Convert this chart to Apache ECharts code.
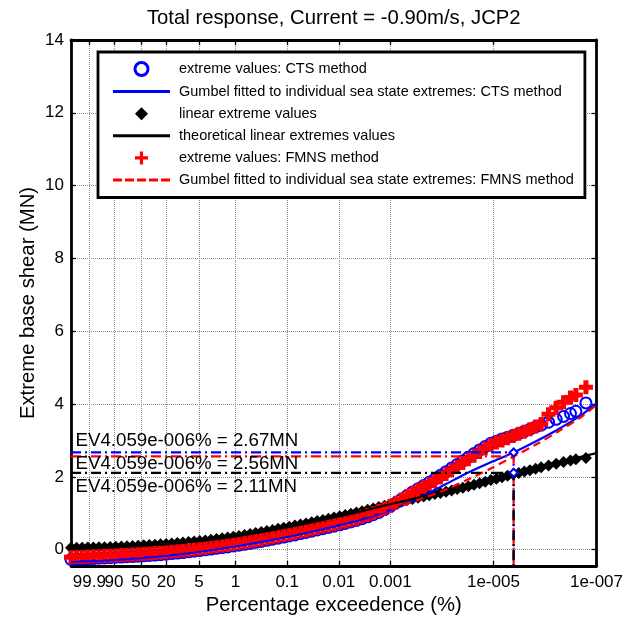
<!DOCTYPE html>
<html><head><meta charset="utf-8">
<script src="https://cdn.jsdelivr.net/npm/echarts/dist/echarts.min.js"></script>
<style>html,body{margin:0;padding:0;background:#fff}#c{width:626px;height:624px}</style>
</head><body><div id="c"></div>
<script>
// ---------------- data ----------------
const titleText = 'Total response, Current = -0.90m/s, JCP2';
const xName = 'Percentage exceedence (%)';
const yName = 'Extreme base shear (MN)';
const xTickLabels = ['99.9','90','50','20','5','1','0.1','0.01','0.001','1e-005','1e-007'];
const xTickPercents = [99.9, 90, 50, 20, 5, 1, 0.1, 0.01, 0.001, 1e-5, 1e-7];
const yTicks = [0, 2, 4, 6, 8, 10, 12, 14];

// plotting positions (Gumbel reduced variate) of the sorted extremes
const sampleU = [-2.75,-2.5,-2.25,-2,-1.75,-1.5,-1.25,-1,-0.75,-0.5,-0.25,0,0.25,0.5,0.75,1,1.25,1.5,1.75,2,
  2.25,2.5,2.75,3,3.25,3.5,3.75,4,4.25,4.5,4.75,5,5.25,5.5,5.75,6,6.25,6.5,6.75,7,
  7.25,7.5,7.75,8,8.25,8.5,8.75,9,9.25,9.5,9.75,10,10.25,10.5,10.75,11,11.25,11.5,11.75,12,
  12.25,12.5,12.75,13,13.25,13.5,13.75,14,14.25,14.5,14.75,15,15.25,15.5,15.75,16,16.25,16.5,16.75,17,
  17.25,17.5,17.75,18,18.25, 18.58,18.92,19.25,19.56,19.8,20.25];
// extreme values: CTS method (MN)
const ctsY = [-0.27,-0.265,-0.26,-0.25,-0.245,-0.235,-0.23,-0.22,-0.21,-0.205,-0.195,-0.19,-0.18,-0.17,-0.16,-0.15,-0.14,-0.125,-0.11,-0.095,
  -0.08,-0.06,-0.045,-0.025,-0.005,0.015,0.035,0.055,0.075,0.1,0.12,0.145,0.17,0.2,0.225,0.255,0.285,0.315,0.345,0.375,
  0.405,0.44,0.47,0.505,0.54,0.575,0.61,0.645,0.68,0.72,0.76,0.8,0.85,0.9,0.96,1.02,1.1,1.18,1.28,1.38,
  1.48,1.58,1.67,1.76,1.85,1.94,2.04,2.14,2.24,2.34,2.44,2.54,2.64,2.74,2.83,2.92,2.98,3.04,3.09,3.14,
  3.19,3.25,3.31,3.37,3.42, 3.5,3.58,3.66,3.74,3.8,4.03];
// linear extreme values (MN)
const linY = [0.05,0.05,0.052,0.055,0.058,0.062,0.066,0.07,0.077,0.084,0.092,0.1,0.108,0.117,0.126,0.135,0.146,0.157,0.168,0.18,
  0.193,0.207,0.22,0.235,0.253,0.272,0.29,0.31,0.332,0.355,0.377,0.4,0.427,0.455,0.482,0.51,0.54,0.57,0.6,0.63,
  0.66,0.69,0.72,0.75,0.783,0.815,0.848,0.88,0.915,0.95,0.985,1.02,1.057,1.095,1.132,1.17,1.207,1.245,1.282,1.32,
  1.355,1.39,1.425,1.46,1.492,1.525,1.557,1.59,1.627,1.665,1.702,1.74,1.782,1.825,1.867,1.91,1.95,1.99,2.03,2.07,
  2.107,2.145,2.182,2.22,2.26, 2.31,2.36,2.41,2.45,2.48,2.52];
// extreme values: FMNS method (MN)
const fmnsY = [-0.21,-0.205,-0.2,-0.19,-0.185,-0.18,-0.17,-0.165,-0.16,-0.15,-0.14,-0.135,-0.125,-0.115,-0.105,-0.095,-0.08,-0.07,-0.055,-0.04,
  -0.025,-0.01,0.01,0.03,0.05,0.07,0.09,0.11,0.13,0.155,0.175,0.2,0.225,0.255,0.28,0.31,0.34,0.37,0.4,0.43,
  0.46,0.495,0.525,0.56,0.595,0.63,0.665,0.7,0.735,0.775,0.81,0.85,0.9,0.95,1.0,1.06,1.13,1.2,1.29,1.38,
  1.47,1.56,1.64,1.72,1.8,1.88,1.98,2.08,2.18,2.28,2.38,2.48,2.58,2.68,2.78,2.88,2.94,3.0,3.06,3.12,
  3.18,3.24,3.31,3.38,3.45, 3.72,3.9,4.05,4.18,4.25,4.46];

// fitted / theoretical curves
const theoU = [-2.75,-1,0,2,4,6,8,10,11.5,13,14.5,16,17.02,18.5,20.72];
const theoY = [0.04,0.07,0.1,0.18,0.31,0.51,0.75,1.02,1.245,1.46,1.665,1.91,2.11,2.33,2.65];
const fitU = [-2.75,-1,0,2,4,6,8,10,11,12,13,14,15,16,17.02,18,19,20,20.72];
const ctsFitY = [-0.33,-0.29,-0.25,-0.14,0.03,0.24,0.49,0.79,0.98,1.2,1.48,1.8,2.12,2.4,2.67,2.97,3.3,3.68,4.02];
const fmnsFitY = [-0.28,-0.24,-0.2,-0.08,0.09,0.3,0.55,0.84,1.0,1.2,1.42,1.65,1.93,2.23,2.56,2.88,3.24,3.63,3.97];

// return level at the target exceedance
const returnPct = 4.059e-6;
const returnPctText = '4.059e-006';
const returnLevels = [2.67, 2.56, 2.11]; // CTS, FMNS, linear

// ---------------- layout ----------------
const FONT = '"Liberation Sans", Arial, Helvetica, sans-serif';
const xMin = -2.75, yMin = -0.45, yMax = 14;
const gumbel = p => -Math.log(-Math.log1p(-p / 100));
const xTickVals = xTickPercents.map(gumbel);
// label order chosen so the (overlapping) first two labels are not treated as an end pair
const labelOrder = [1, 2, 0, 3, 4, 5, 6, 7, 8, 9, 10];
const xLabelVals = labelOrder.map(i => xTickVals[i]);
const xMax = gumbel(1e-7);
const returnU = gumbel(returnPct);
const labelFor = v => { for (let i = 0; i < xTickVals.length; i++) if (Math.abs(xTickVals[i] - v) < 1e-6) return xTickLabels[i]; return ''; };
const zip = (a, b) => a.map((v, i) => [v, b[i]]);
const PLUS = 'path://M3.2,0H6.8V3.2H10V6.8H6.8V10H3.2V6.8H0V3.2H3.2Z';
const PLUS_ICON = 'path://M3.8,0H6.2V3.8H10V6.2H6.2V10H3.8V6.2H0V3.8H3.8Z';
const DIAMOND = 'path://M5,0L10,5L5,10L0,5Z';
const LINE_ICON = 'path://M0,0H57V3H0Z';
const DASH_ICON = 'path://M0,0H9V3H0Z M12,0H21V3H12Z M24,0H33V3H24Z M36,0H45V3H36Z M48,0H57V3H48Z';
const annotY = [2.99, 2.36, 1.72];
const retColors = ['#0000ff', '#ff0000', '#000000'];
const DASHDOT = [10, 4, 2, 4];

const N = ['extreme values: CTS method',
  'Gumbel fitted to individual sea state extremes: CTS method',
  'linear extreme values',
  'theoretical linear extremes values',
  'extreme values: FMNS method',
  'Gumbel fitted to individual sea state extremes: FMNS method'];

const frame = {show: true, onZero: false, lineStyle: {color: '#000', width: 2.8}};
const tickIn = vals => ({show: true, inside: true, length: 5, customValues: vals, lineStyle: {color: '#000', width: 1.3}});
const grid = {show: true, lineStyle: {color: '#8c8c8c', width: 1, type: [1, 1]}};
const noEmph = {disabled: true};

const series = [
  {name: N[0], type: 'scatter', data: zip(sampleU, ctsY), symbol: 'circle', symbolSize: 11, emphasis: noEmph,
   itemStyle: {color: 'rgba(255,255,255,0)', borderColor: '#0000ff', borderWidth: 2, opacity: 1}},
  {name: N[1], type: 'line', data: zip(fitU, ctsFitY), symbol: 'none', smooth: 0.3, emphasis: noEmph,
   lineStyle: {color: '#0000ff', width: 2.2}, itemStyle: {color: '#0000ff'}},
  {name: N[2], type: 'scatter', data: zip(sampleU, linY), symbol: DIAMOND, symbolSize: 12, emphasis: noEmph,
   itemStyle: {color: '#000', opacity: 1}},
  {name: N[3], type: 'line', data: zip(theoU, theoY), symbol: 'none', smooth: 0.3, emphasis: noEmph,
   lineStyle: {color: '#000', width: 2.2}, itemStyle: {color: '#000'}},
  {name: N[4], type: 'scatter', data: zip(sampleU, fmnsY), symbol: PLUS, symbolSize: 14, emphasis: noEmph,
   itemStyle: {color: '#ff0000', opacity: 1}},
  {name: N[5], type: 'line', data: zip(fitU, fmnsFitY), symbol: 'none', smooth: 0.3, emphasis: noEmph,
   lineStyle: {color: '#ff0000', width: 2.2, type: [8, 5]}, itemStyle: {color: '#ff0000'}}
];
returnLevels.forEach((lv, k) => {
  series.push({type: 'line', silent: true, symbol: 'none', data: [[xMin, lv], [returnU, lv], [returnU, yMin]],
    lineStyle: {color: retColors[k], width: 2.2, type: DASHDOT}, z: 3});
});
series.push({type: 'scatter', silent: true, symbol: 'emptyDiamond', symbolSize: 8, z: 4,
  itemStyle: {color: '#0000ff', borderWidth: 1.5, opacity: 1},
  data: [[returnU, returnLevels[0]], [returnU, returnLevels[2]]]});
series.push({type: 'scatter', silent: true, symbolSize: 1, z: 5, itemStyle: {color: 'rgba(0,0,0,0)', opacity: 1},
  label: {show: true, position: 'right', distance: 0, formatter: '{b}', color: '#000', fontSize: 18.7, fontFamily: FONT},
  data: returnLevels.map((lv, k) => ({name: 'EV' + returnPctText + '% = ' + lv.toFixed(2) + 'MN', value: [-2.57, annotY[k]]}))});

const option = {
  animation: false,
  backgroundColor: '#fff',
  textStyle: {fontFamily: FONT},
  grid: {left: 71, right: 29, top: 40, bottom: 58},
  legend: {
    orient: 'vertical', left: 98, top: 52, itemWidth: 57, itemHeight: 13, itemGap: 7.1,
    padding: [9, 11, 10, 15], borderColor: '#000', borderWidth: 2.8, backgroundColor: '#fff',
    textStyle: {fontSize: 14.5, color: '#000', fontFamily: FONT, padding: [0, 0, 0, 4]},
    data: [
      {name: N[0], icon: 'circle', itemStyle: {color: '#fff', borderColor: '#0000ff', borderWidth: 3}},
      {name: N[1], icon: LINE_ICON, itemStyle: {color: '#0000ff', borderWidth: 0}},
      {name: N[2], icon: DIAMOND, itemStyle: {color: '#000', borderWidth: 0}},
      {name: N[3], icon: LINE_ICON, itemStyle: {color: '#000', borderWidth: 0}},
      {name: N[4], icon: PLUS_ICON, itemStyle: {color: '#ff0000', borderWidth: 0}},
      {name: N[5], icon: DASH_ICON, itemStyle: {color: '#ff0000', borderWidth: 0}}
    ]
  },
  xAxis: [
    {type: 'value', min: xMin, max: xMax, position: 'bottom',
     name: xName, nameLocation: 'middle', nameGap: 29, nameMoveOverlap: false,
     nameTextStyle: {fontSize: 20.3, color: '#000', fontFamily: FONT},
     axisLine: frame, axisTick: tickIn(xTickVals), splitLine: grid,
     axisLabel: {customValues: xLabelVals, formatter: v => labelFor(v), hideOverlap: false, showMinLabel: true, showMaxLabel: true,
       color: '#000', fontSize: 17, margin: 8, fontFamily: FONT}},
    {type: 'value', min: xMin, max: xMax, position: 'top',
     name: titleText, nameLocation: 'middle', nameGap: 12, nameMoveOverlap: false,
     nameTextStyle: {fontSize: 20.3, color: '#000', fontFamily: FONT},
     axisLine: frame, axisTick: tickIn(xTickVals), splitLine: {show: false}, axisLabel: {show: false}}
  ],
  yAxis: [
    {type: 'value', min: yMin, max: yMax, position: 'left',
     name: yName, nameLocation: 'middle', nameGap: 33, nameMoveOverlap: false,
     nameTextStyle: {fontSize: 20.3, color: '#000', fontFamily: FONT},
     axisLine: frame, axisTick: tickIn(yTicks), splitLine: grid,
     axisLabel: {customValues: yTicks, hideOverlap: false, color: '#000', fontSize: 17, margin: 7, fontFamily: FONT}},
    {type: 'value', min: yMin, max: yMax, position: 'right',
     axisLine: frame, axisTick: tickIn(yTicks), splitLine: {show: false}, axisLabel: {show: false}}
  ],
  series: series
};
const chart = echarts.init(document.getElementById('c'));
chart.setOption(option);
</script></body></html>
